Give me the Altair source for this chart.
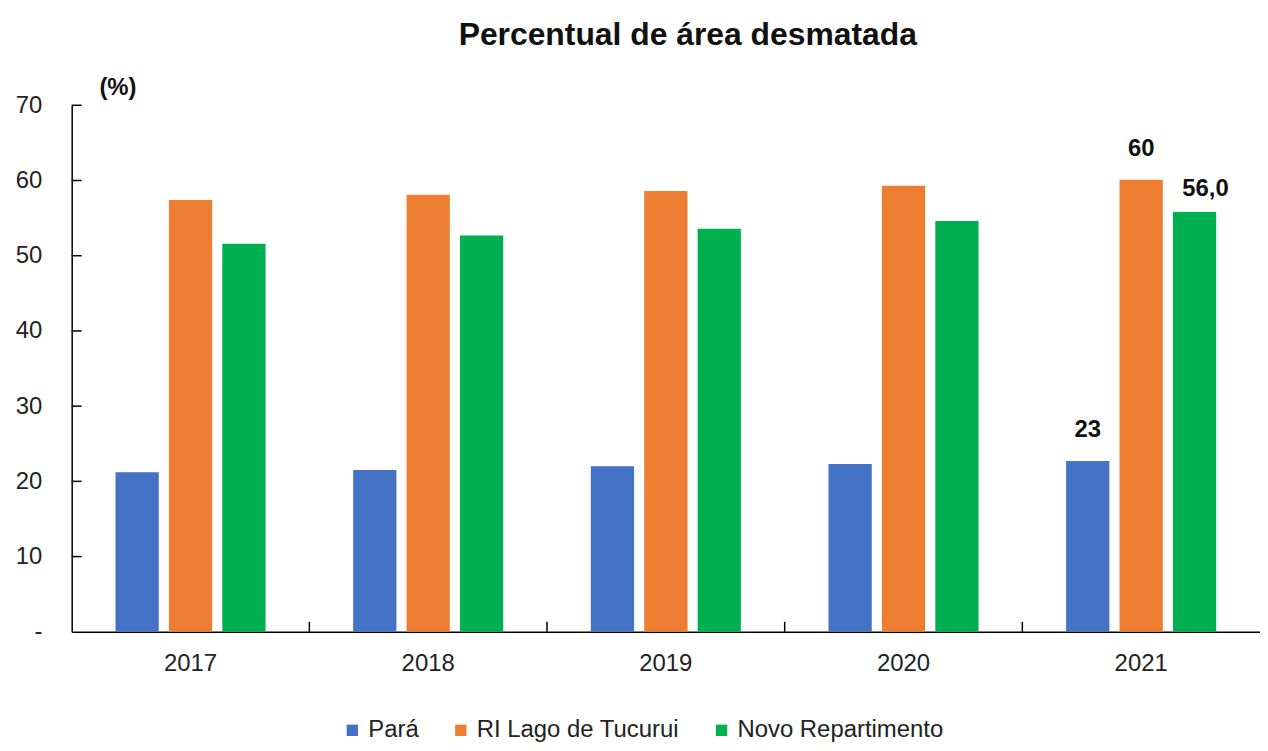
import altair as alt
import pandas as pd

anos = ["2017", "2018", "2019", "2020", "2021"]
series = ["Pará", "RI Lago de Tucurui", "Novo Repartimento"]
para = [21.2, 21.5, 22.0, 22.3, 22.7]
ri_tucurui = [57.4, 58.1, 58.6, 59.3, 60.1]
novo_rep = [51.6, 52.7, 53.6, 54.6, 55.8]
rotulos_para = ["", "", "", "", "23"]
rotulos_ri = ["", "", "", "", "60"]
rotulos_novo = ["", "", "", "", "56,0"]
y_ticks = [10, 20, 30, 40, 50, 60, 70]
cores = ["#4472C4", "#ED7D31", "#00B050"]

rows = []
for vals, labs, s in [(para, rotulos_para, series[0]), (ri_tucurui, rotulos_ri, series[1]), (novo_rep, rotulos_novo, series[2])]:
    for a, v, l in zip(anos, vals, labs):
        rows.append({"ano": a, "serie": s, "valor": v, "rotulo": l})
df = pd.DataFrame(rows)

FONT = "Liberation Sans Narrow, Arial Narrow, Liberation Sans, sans-serif"
W, H = 1194, 529

x_enc = alt.X("ano:N", sort=anos, scale=alt.Scale(paddingInner=0, paddingOuter=0),
              axis=alt.Axis(title=None, labelAngle=0, ticks=False, labelPadding=20,
                            labelFontSize=24, labelFont=FONT, labelColor="#222",
                            domainColor="#000", domainWidth=1.5, grid=False))
xo_enc = alt.XOffset("serie:N", sort=series, scale=alt.Scale(paddingInner=0.19, paddingOuter=0.82))
y_enc = alt.Y("valor:Q", scale=alt.Scale(domain=[0, 70], nice=False),
              axis=alt.Axis(values=[0, 10, 20, 30, 40, 50, 60, 70], grid=False, ticks=False,
                            labelExpr="datum.value == 0 ? '-' : datum.label",
                            labelPadding=30, labelFontSize=24, labelFont=FONT, labelColor="#222",
                            domainColor="#000", domainWidth=1.5,
                            title="(%)", titleAngle=0, titleX=46, titleY=-18,
                            titleAlign="center", titleBaseline="middle",
                            titleFont=FONT, titleFontSize=24, titleFontWeight="bold", titleColor="#111"))

bars = alt.Chart(df).mark_bar().encode(
    x=x_enc, xOffset=xo_enc, y=y_enc,
    color=alt.Color("serie:N", sort=series, scale=alt.Scale(domain=series, range=cores),
                    legend=alt.Legend(title=None, orient="none", direction="horizontal",
                                      legendX=270, legendY=616, symbolType="square",
                                      symbolSize=130, symbolStrokeWidth=0,
                                      labelFont=FONT, labelFontSize=24, labelColor="#222",
                                      labelLimit=400, columnPadding=30, labelOffset=4)),
)

lab1 = alt.Chart(df).transform_filter(
    "datum.serie != 'Novo Repartimento' && datum.rotulo != ''"
).mark_text(font=FONT, fontSize=24, fontWeight="bold", dy=-31, color="#111").encode(
    x=alt.X("ano:N", sort=anos), xOffset=alt.XOffset("serie:N", sort=series),
    y=alt.Y("valor:Q"), text="rotulo:N")

lab2 = alt.Chart(df).transform_filter(
    "datum.serie == 'Novo Repartimento' && datum.rotulo != ''"
).mark_text(font=FONT, fontSize=24, fontWeight="bold", dy=-23, dx=11, color="#111").encode(
    x=alt.X("ano:N", sort=anos), xOffset=alt.XOffset("serie:N", sort=series),
    y=alt.Y("valor:Q"), text="rotulo:N")

ticks_df = pd.DataFrame({"t": y_ticks})
yticks = alt.Chart(ticks_df).mark_rule(color="#000", strokeWidth=1.5).encode(
    y=alt.Y("t:Q"), x=alt.value(0), x2=alt.value(10))

sep_df = pd.DataFrame({"ano": anos[1:]})
xsep = alt.Chart(sep_df).mark_rule(color="#000", strokeWidth=1.5).encode(
    x=alt.X("ano:N", sort=anos, bandPosition=0), y=alt.value(H), y2=alt.value(H - 10))

chart = alt.layer(bars, lab1, lab2, yticks, xsep).properties(
    width=W, height=H,
    background="white",
    title=alt.Title("Percentual de área desmatada", font=FONT, fontSize=32, fontWeight="bold",
                    color="#111", anchor="middle", offset=24, dx=22),
    autosize=alt.AutoSizeParams(type="none"),
    padding={"left": 64, "top": 96, "right": 0, "bottom": 110},
).configure_axis(grid=False).configure_view(stroke=None, strokeWidth=0)

chart.save("out.html", embed_options={"renderer": "svg", "actions": False})
